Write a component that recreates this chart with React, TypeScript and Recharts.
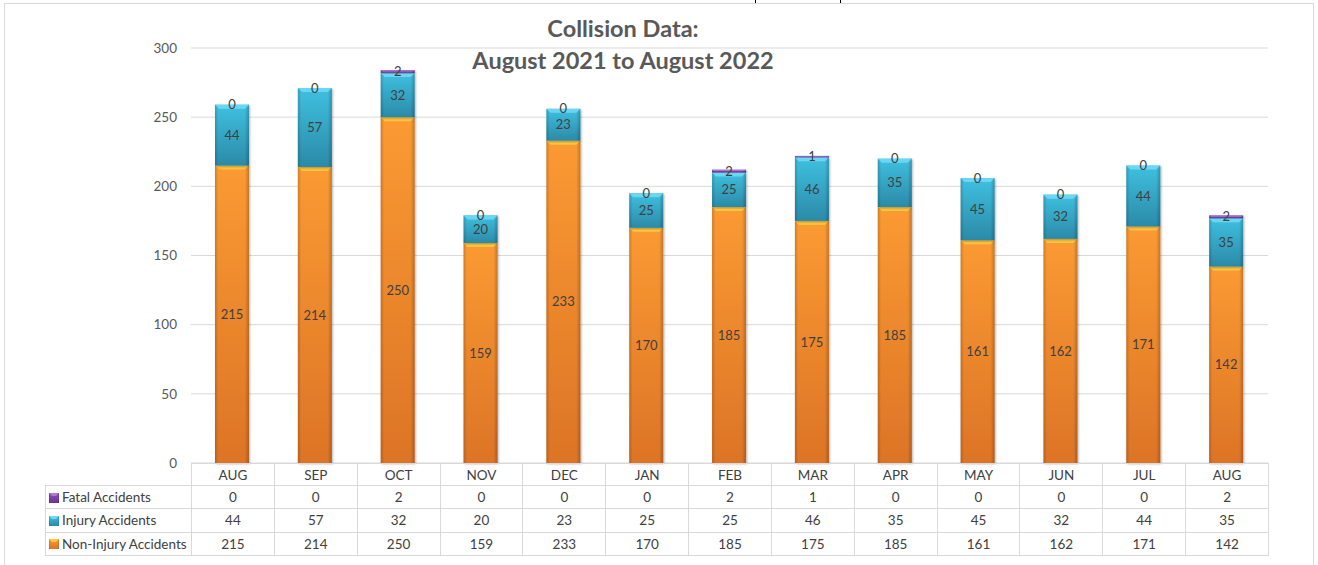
import React from 'react';
import { BarChart, Bar, XAxis, YAxis, CartesianGrid, LabelList } from 'recharts';

const months = ['AUG', 'SEP', 'OCT', 'NOV', 'DEC', 'JAN', 'FEB', 'MAR', 'APR', 'MAY', 'JUN', 'JUL', 'AUG'];
const nonInjury = [215, 214, 250, 159, 233, 170, 185, 175, 185, 161, 162, 171, 142];
const injury = [44, 57, 32, 20, 23, 25, 25, 46, 35, 45, 32, 44, 35];
const fatal = [0, 0, 2, 0, 0, 0, 2, 1, 0, 0, 0, 0, 2];
const yTicks = [0, 50, 100, 150, 200, 250, 300];

const seriesRows = [
  { name: 'Fatal Accidents', values: fatal, kind: 'purple' },
  { name: 'Injury Accidents', values: injury, kind: 'teal' },
  { name: 'Non-Injury Accidents', values: nonInjury, kind: 'orange' },
];

const chartData = months.map((m, i) => ({
  month: m,
  idx: i,
  nonInjury: nonInjury[i],
  injury: injury[i],
  fatal: fatal[i],
}));

const BEVEL: Record<string, string> = {
  orange: '#ffc83f',
  teal: '#6fd8f3',
  purple: '#a77bd0',
};

const TEXT = '#404040';
const GRID = '#d9d9d9';
const FONT = 'Lato, "Open Sans", sans-serif';

// bar with a soft bevel look like the office 3D style
const makeShape = (kind: string) => (props: any) => {
  const { x, y, width, height } = props;
  if (!height || height <= 0) return <g />;
  const b = Math.min(4, height / 2);
  return (
    <g filter="url(#barShadow)">
      <rect x={x} y={y} width={width} height={height} fill={`url(#v-${kind})`} />
      <rect x={x} y={y} width={width} height={height} fill="url(#edges)" />
      <polygon
        points={`${x},${y} ${x + width},${y} ${x + width - b},${y + b} ${x + b},${y + b}`}
        fill={BEVEL[kind]}
        opacity={0.9}
      />
    </g>
  );
};

const Key = ({ kind }: { kind: string }) => (
  <svg width={10} height={10} style={{ verticalAlign: 'middle', marginRight: 3, marginTop: -2 }}>
    <rect x={0} y={0} width={10} height={10} fill={`url(#v-${kind})`} />
    <rect x={0} y={0} width={10} height={10} fill="url(#edges)" />
    <polygon points="0,0 10,0 7,3 3,3" fill={BEVEL[kind]} />
  </svg>
);

const PLOT_LEFT = 191;
const PLOT_RIGHT = 1268;
const colW = (PLOT_RIGHT - PLOT_LEFT) / months.length;

const cell: React.CSSProperties = {
  border: `1px solid ${GRID}`,
  textAlign: 'center',
  padding: 0,
  color: TEXT,
  fontSize: 13.5,
  whiteSpace: 'nowrap',
};

const App: React.FC = () => {
  return (
    <div
      style={{
        position: 'absolute',
        left: 0,
        top: 0,
        width: 1318,
        height: 565,
        background: '#fff',
        fontFamily: FONT,
        overflow: 'hidden',
      }}
    >
      <svg width={0} height={0} style={{ position: 'absolute' }}>
        <defs>
          <linearGradient id="v-orange" x1="0" y1="0" x2="0" y2="1">
            <stop offset="0%" stopColor="#fb9a32" />
            <stop offset="100%" stopColor="#dc7427" />
          </linearGradient>
          <linearGradient id="v-teal" x1="0" y1="0" x2="0" y2="1">
            <stop offset="0%" stopColor="#3fc0e0" />
            <stop offset="100%" stopColor="#2b8aa8" />
          </linearGradient>
          <linearGradient id="v-purple" x1="0" y1="0" x2="0" y2="1">
            <stop offset="0%" stopColor="#8a52b8" />
            <stop offset="100%" stopColor="#6a3496" />
          </linearGradient>
          <linearGradient id="edges" x1="0" y1="0" x2="1" y2="0">
            <stop offset="0%" stopColor="#000" stopOpacity={0.18} />
            <stop offset="10%" stopColor="#000" stopOpacity={0} />
            <stop offset="88%" stopColor="#000" stopOpacity={0} />
            <stop offset="100%" stopColor="#000" stopOpacity={0.22} />
          </linearGradient>
          <filter id="barShadow" x="-20%" y="-5%" width="140%" height="110%">
            <feDropShadow dx="1" dy="1" stdDeviation="1.2" floodColor="#000" floodOpacity="0.3" />
          </filter>
        </defs>
      </svg>

      {/* chart frame */}
      <div
        style={{
          position: 'absolute',
          left: 4,
          top: 3,
          width: 1308,
          height: 600,
          border: `1px solid ${GRID}`,
        }}
      />
      <div style={{ position: 'absolute', left: 755, top: 0, width: 1, height: 3, background: '#000' }} />
      <div style={{ position: 'absolute', left: 840, top: 0, width: 1, height: 3, background: '#000' }} />

      <div style={{ position: 'absolute', left: 0, top: 0 }}>
        <BarChart
          width={1318}
          height={565}
          data={chartData}
          margin={{ top: 48, right: 50, bottom: 102, left: 131 }}
          barSize={34}
        >
          <CartesianGrid vertical={false} stroke={GRID} strokeWidth={1} />
          <XAxis dataKey="idx" hide />
          <YAxis
            width={60}
            domain={[0, 300]}
            ticks={yTicks}
            axisLine={false}
            tickLine={false}
            tickSize={8}
            tickMargin={6}
            tick={{ fill: '#595959', fontSize: 13.5, fontFamily: FONT }}
          />
          <Bar dataKey="nonInjury" stackId="a" isAnimationActive={false} shape={makeShape('orange')}>
            <LabelList dataKey="nonInjury" position="center" fill={TEXT} fontSize={13} fontFamily={FONT} />
          </Bar>
          <Bar dataKey="injury" stackId="a" isAnimationActive={false} shape={makeShape('teal')}>
            <LabelList dataKey="injury" position="center" fill={TEXT} fontSize={13} fontFamily={FONT} />
          </Bar>
          <Bar dataKey="fatal" stackId="a" isAnimationActive={false} shape={makeShape('purple')}>
            <LabelList dataKey="fatal" position="center" fill={TEXT} fontSize={13} fontFamily={FONT} />
          </Bar>
        </BarChart>
      </div>

      {/* title */}
      <svg
        width={1318}
        height={80}
        style={{ position: 'absolute', left: 0, top: 0, pointerEvents: 'none' }}
      >
        <text x={623} y={37} textAnchor="middle" fill="#595959" fontSize={23.5} fontWeight={700} fontFamily={FONT}>
          Collision Data:
        </text>
        <text x={623} y={69} textAnchor="middle" fill="#595959" fontSize={23.5} fontWeight={700} fontFamily={FONT}>
          August 2021 to August 2022
        </text>
      </svg>

      {/* data table */}
      <table
        style={{
          position: 'absolute',
          left: 45,
          top: 463,
          borderCollapse: 'collapse',
          tableLayout: 'fixed',
          fontFamily: FONT,
        }}
      >
        <colgroup>
          <col style={{ width: PLOT_LEFT - 45 }} />
          {months.map((_, i) => (
            <col key={i} style={{ width: colW }} />
          ))}
        </colgroup>
        <tbody>
          <tr style={{ height: 22 }}>
            <td style={{ ...cell, border: 'none', borderRight: `1px solid ${GRID}` }} />
            {months.map((m, i) => (
              <td key={i} style={cell}>
                {m}
              </td>
            ))}
          </tr>
          {seriesRows.map((row) => (
            <tr key={row.name} style={{ height: 23.3 }}>
              <td style={{ ...cell, textAlign: 'left', paddingLeft: 3 }}>
                <Key kind={row.kind} />
                {row.name}
              </td>
              {row.values.map((v, i) => (
                <td key={i} style={cell}>
                  {v}
                </td>
              ))}
            </tr>
          ))}
        </tbody>
      </table>
    </div>
  );
};

export default App;
